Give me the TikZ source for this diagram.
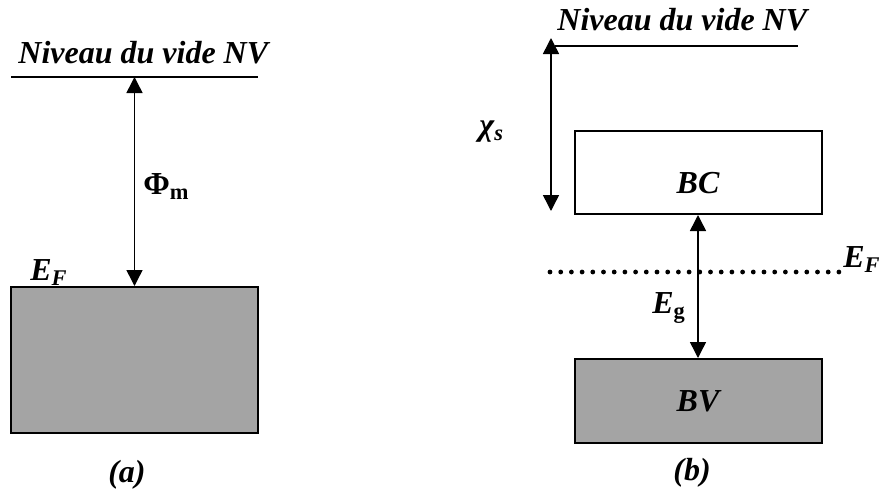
\documentclass[tikz,border=0pt]{standalone}
\usepackage{fontspec}
\setmainfont{Liberation Serif}
\usepackage{tikz}
\usetikzlibrary{calc,arrows,positioning}
\usetikzlibrary{arrows.meta}
\definecolor{bandgray}{HTML}{A4A4A4}
\tikzset{
level_line/.style={line width=0.75pt},
fermi_line/.style={line width=2.4pt, line cap=round, dash pattern=on 0pt off 5.35pt},
band/.style={rectangle, draw, line width=1pt, fill=white, minimum width=123.5pt, inner sep=0},
full_band/.style={band, fill=bandgray},
energy/.style={{Triangle[length=8pt,width=8pt]}-{Triangle[length=8pt,width=8pt]}, line width=0.75pt},
label_text/.style={inner sep=0, font=\fontsize{16}{19}\selectfont\bfseries\itshape},
greek_text/.style={inner sep=0, font=\fontsize{16}{19}\selectfont\bfseries}
}

\begin{document}
\begin{tikzpicture}[x=0.5pt, y=-0.5pt]
    \useasboundingbox (0,0) rectangle (880,493);
    % (a) metal
    \node[full_band, minimum height=73pt] (metal) at (134.5,360) {};
    \coordinate (nv_a_l) at (11,77);
    \coordinate (nv_a_r) at (258,77);
    \coordinate (nv_a) at ($(nv_a_l)!0.5!(nv_a_r)$);
    \draw[level_line] (nv_a_l) -- (nv_a_r);
    \node[label_text, anchor=base west] (nv_a_txt) at (18,63) {Niveau du vide NV};
    \draw[energy] (metal.north) -- (nv_a);
    \node[greek_text, anchor=base west] (phi_m) at (143,194) {Φ\textsubscript{m}};
    \node[label_text, anchor=base west] (ef_a) at (30,280) {E\textsubscript{F}};
    \node[label_text] (cap_a) at (127,475) {(a)};
    % (b) semiconductor
    \node[band, minimum height=41.5pt] (bc) at (698,172.5) {};
    \node[label_text] (bc_txt) at (698,183) {BC};
    \node[full_band, minimum height=42pt, label_text] (bv) at (698,401) {BV};
    \draw[energy] (bc.south) -- (bv.north);
    \coordinate (nv_b_l) at (555,46);
    \coordinate (nv_b_r) at (798,46);
    \draw[level_line] (nv_b_l) -- (nv_b_r);
    \node[label_text, anchor=base west] (nv_b_txt) at (557,30) {Niveau du vide NV};
    \coordinate (chi_top) at (551,38);
    \coordinate (chi_bot) at (551,211);
    \draw[energy] (chi_top) -- (chi_bot);
    \node[label_text, anchor=base west] (chi_s) at (479,135) {χ\textsubscript{s}};
    \coordinate (ef_l) at (550,272);
    \coordinate (ef_r) at (840,272);
    \draw[fermi_line] (ef_l) -- (ef_r);
    \node[label_text, anchor=base west] (ef_b) at (843,267) {E\textsubscript{F}};
    \node[label_text, anchor=base west] (eg) at (652,313) {E\textsubscript{\upshape g}};
    \node[label_text] (cap_b) at (692,473) {(b)};
\end{tikzpicture}
\end{document}
